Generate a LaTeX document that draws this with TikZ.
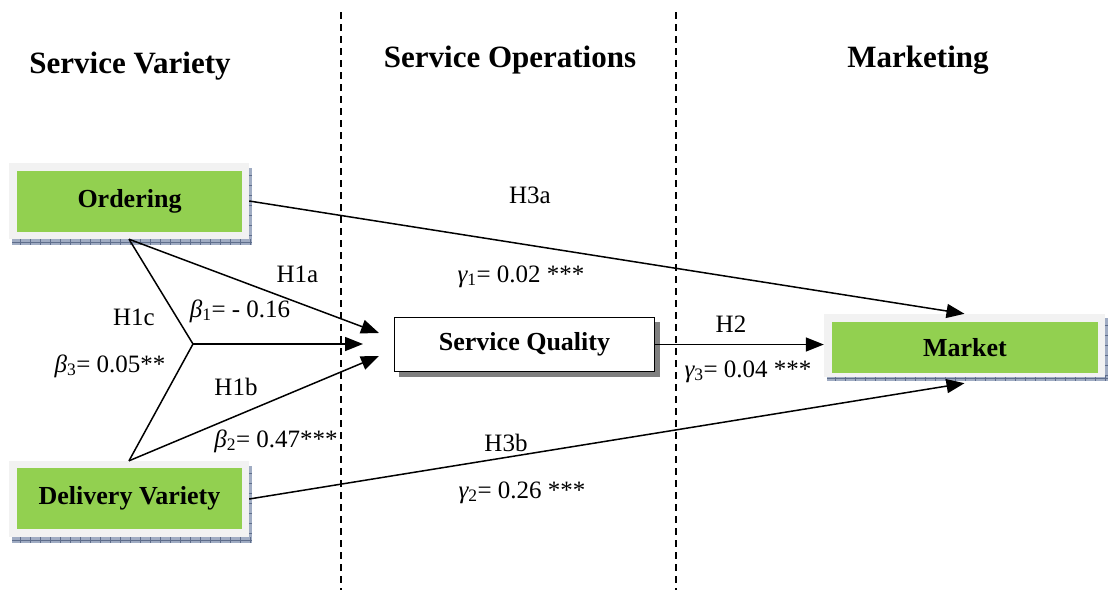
\documentclass[tikz,border=0pt]{standalone}
\usepackage{fontspec}
\setmainfont{Liberation Serif}
\usetikzlibrary{arrows.meta,calc}
\definecolor{boxgreen}{RGB}{146,208,80}
\definecolor{framegray}{RGB}{242,242,242}
\definecolor{hatch}{RGB}{160,172,195}
\definecolor{hatchdark}{RGB}{95,110,140}
\definecolor{sqshadow}{RGB}{128,128,128}
\newcommand\grk[2]{{\itshape #1}\textsubscript{#2}}
\begin{document}
\begin{tikzpicture}[x=1pt,y=-1pt,
  lbl/.style={font=\fontsize{25}{28}\selectfont, inner sep=0pt, anchor=base},
  title/.style={font=\fontsize{31}{35}\selectfont\bfseries, inner sep=0pt, anchor=base},
  frame/.style={fill=framegray, inner sep=0pt, draw=none},
  greenbox/.style={fill=boxgreen, inner sep=0pt, draw=none, font=\fontsize{26}{29}\selectfont\bfseries},
  whitebox/.style={fill=white, draw=black, line width=1.5pt, inner sep=0pt, font=\fontsize{26}{29}\selectfont\bfseries},
  strip/.style={fill=hatch, draw=none},
  tick/.style={draw=hatchdark, line width=0.6pt},
  conn/.style={line width=1.5pt, -{Triangle[length=18pt,width=14pt]}},
  plain/.style={line width=1.5pt},
  divider/.style={line width=1.3pt, dash pattern=on 7pt off 5pt}]
\useasboundingbox (0,0) rectangle (1110,590);

% dividers
\coordinate (d1a) at (341,12); \coordinate (d1b) at (341,590);
\coordinate (d2a) at (676,12); \coordinate (d2b) at (676,590);
\draw[divider] (d1a) -- (d1b);
\draw[divider] (d2a) -- (d2b);

% titles
\node[title] (tSV) at (130,73) {Service Variety};
\node[title] (tSO) at (510,67) {Service Operations};
\node[title] (tMK) at (918,67) {Marketing};

% shadows of green boxes
\fill[strip] (12,239) rectangle (252,245);
\fill[strip] (248,168) rectangle (252,245);
\foreach \t in {20,30,...,250} \draw[tick] (\t,239) -- (\t,245);
\foreach \t in {175,185,...,235} \draw[tick] (248,\t) -- (252,\t);
\draw[tick] (12,242) -- (252,242);

\fill[strip] (12,537) rectangle (252,543);
\fill[strip] (248,466) rectangle (252,543);
\foreach \t in {20,30,...,250} \draw[tick] (\t,537) -- (\t,543);
\foreach \t in {473,483,...,533} \draw[tick] (248,\t) -- (252,\t);
\draw[tick] (12,540) -- (252,540);

\fill[strip] (827,376) rectangle (1108,381);
\fill[strip] (1104,318) rectangle (1108,381);
\foreach \t in {835,845,...,1105} \draw[tick] (\t,376) -- (\t,381);
\foreach \t in {325,335,...,375} \draw[tick] (1104,\t) -- (1108,\t);
\draw[tick] (827,378.5) -- (1108,378.5);

% boxes
\node[frame, minimum width=240pt, minimum height=76pt] (ordF) at (129,201) {};
\node[greenbox, minimum width=225pt, minimum height=61pt] (ord) at (129.5,201.5) {Ordering};

\node[frame, minimum width=240pt, minimum height=76pt] (delF) at (129,499) {};
\node[greenbox, minimum width=225pt, minimum height=61pt] (del) at (129.5,498.5) {Delivery Variety};

\node[frame, minimum width=281pt, minimum height=63pt] (mktF) at (964.5,345.5) {};
\node[greenbox, minimum width=266pt, minimum height=51pt] (mkt) at (965,347.5) {Market};

\fill[sqshadow] (399,322) rectangle (660,377);
\node[whitebox, minimum width=260pt, minimum height=54pt] (sq) at (524.5,344.5) {Service Quality};

% connectors
\coordinate (J) at (193,344);
\coordinate (t1) at (379,333);
\coordinate (t2) at (363,344);
\coordinate (t3) at (379,356);
\coordinate (mb) at ($(mktF.south)+(0,6)$);

\draw[conn] (ordF.east) -- (mktF.north);
\draw[conn] (delF.east) -- (mb);
\draw[conn] (sq.east) -- (sq.east -| mktF.west);
\draw[conn] (ordF.south) -- (t1);
\draw[plain] (ordF.south) -- (J) -- (delF.north);
\draw[conn] (J) -- (t2);
\draw[conn] (delF.north) -- (t3);

% labels
\node[lbl] (lH3a) at (530,203) {H3a};
\node[lbl] (lg1) at (521,282) {\grk{γ}{1}= 0.02 ***};
\node[lbl] (lH1a) at (297.5,282) {H1a};
\node[lbl] (lb1) at (240,317) {\grk{β}{1}= - 0.16};
\node[lbl] (lH1c) at (134,325) {H1c};
\node[lbl] (lb3) at (110,372) {\grk{β}{3}= 0.05**};
\node[lbl] (lH1b) at (236,395) {H1b};
\node[lbl] (lb2) at (276,447) {\grk{β}{2}= 0.47***};
\node[lbl] (lH3b) at (506,451) {H3b};
\node[lbl] (lg2) at (522,498) {\grk{γ}{2}= 0.26 ***};
\node[lbl] (lH2) at (731,332) {H2};
\node[lbl] (lg3) at (748,377) {\grk{γ}{3}= 0.04 ***};
\end{tikzpicture}
\end{document}
